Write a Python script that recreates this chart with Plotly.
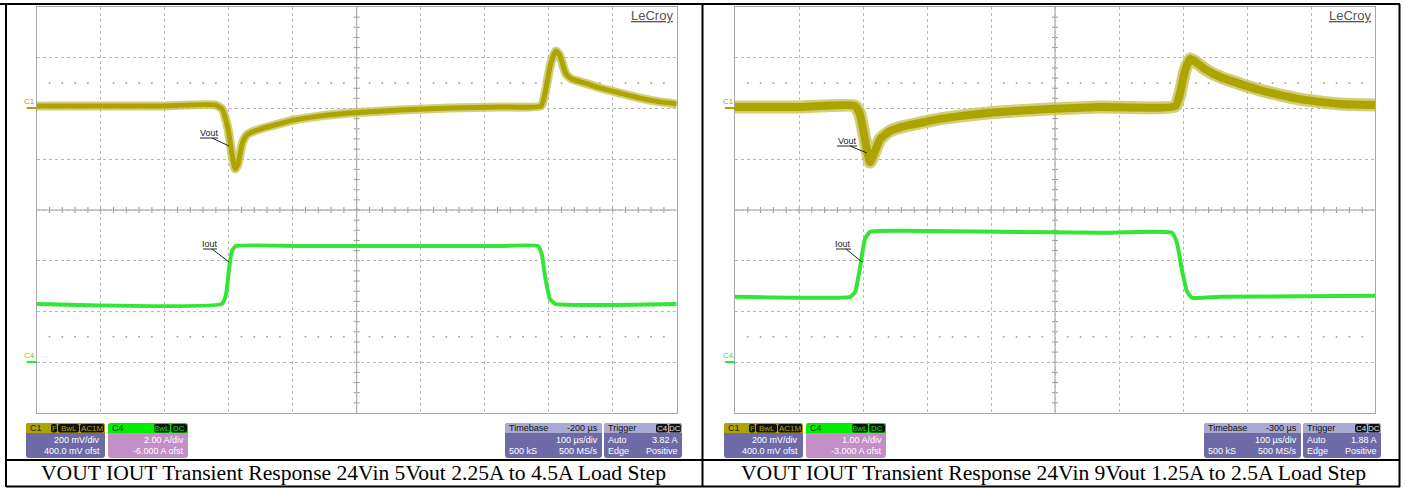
import plotly.graph_objects as go

W, H = 1405, 489

# ---------------- data ----------------
# Left scope: 24Vin 5Vout, 2.25A -> 4.5A
vout_t_left = [-300, -201, -107, -21.5, -10.5, -1, 5, 10, 14.5, 21, 27, 36, 49, 72, 103, 142,
               190, 268, 346, 424, 488, 494, 503, 511, 517, 527, 536, 557, 580, 611, 643, 674, 700]
vout_mv_left = [10, 10, 10, 14, -2, -81, -179, -238, -219, -140, -108, -93, -81, -65, -45, -30,
                -18, -6, 2, 6, 10, 57, 175, 227, 211, 136, 116, 100, 81, 61, 41, 26, 18]
iout_t_left = [-300, -10.5, -4, 0.5, 5, 11, 111, 268, 424, 483, 489, 495, 502, 510, 700]
iout_a_left = [2.30, 2.30, 2.69, 3.67, 4.38, 4.58, 4.58, 4.58, 4.58, 4.58, 4.27, 3.28, 2.49, 2.30, 2.30]

# Right scope: 24Vin 9Vout, 1.25A -> 2.5A
vout_t_right = [-200, -98, -12.5, -5, 3, 11, 17, 27, 42, 66, 89, 120, 152, 214, 292, 370, 488,
                495, 503, 511, 520, 534, 558, 589, 620, 652, 683, 714, 745, 800]
vout_mv_right = [6, 6, 10, -22, -120, -211, -179, -120, -89, -69, -57, -41, -30, -14, -2, 6, 10,
                 57, 148, 195, 183, 156, 124, 97, 73, 53, 37, 26, 18, 14]
iout_t_right = [-200, -20, -12.5, -5, 3, 11, 58, 214, 370, 483, 491, 498, 506, 514, 558, 800]
iout_a_right = [1.29, 1.29, 1.38, 1.84, 2.43, 2.57, 2.59, 2.57, 2.55, 2.55, 2.33, 1.84, 1.40, 1.27, 1.29, 1.31]

# scope settings
time_ranges = [[-300, 700], [-200, 800]]
c1_ranges = [[-1200, 400], [-1200, 400]]          # 200 mV/div, zero 2 div above centre
c4_ranges = [[-2, 14], [-1, 7]]                   # 2 A/div ofst -6 A ; 1 A/div ofst -3 A
trig_levels = [3.82, 1.88]
c1_scale_txt = ["200 mV/div", "200 mV/div"]
c1_ofst_txt = ["400.0 mV ofst", "400.0 mV ofst"]
c4_scale_txt = ["2.00 A/div", "1.00 A/div"]
c4_ofst_txt = ["-6.000 A ofst", "-3.000 A ofst"]
tb_delay_txt = ["-200 µs", "-300 µs"]
trig_level_txt = ["3.82 A", "1.88 A"]
captions = ["VOUT IOUT Transient Response 24Vin 5Vout 2.25A to 4.5A Load Step",
            "VOUT IOUT Transient Response 24Vin 9Vout 1.25A to 2.5A Load Step"]

# ---------------- styling ----------------
OLIVE = "#ada400"
GREEN = "#33e633"
GRID = "#b8b8b8"
PURPLE = "#6e6aa8"
PINK = "#c28fc6"
HDR = "#a9a9d2"
FONT = "Liberation Sans"


def X(px):
    return px / W


def Y(py):
    return 1 - py / H


fig = go.Figure()
shapes = []
annos = []

grid_x0 = [36.7, 735.0]
GRID_W = 640.0
GRID_TOP, GRID_BOT = 7.0, 413.0
offs = [0, 698]

vt = [vout_t_left, vout_t_right]
vv = [vout_mv_left, vout_mv_right]
it = [iout_t_left, iout_t_right]
ia = [iout_a_left, iout_a_right]
vwidth_outer = [9, 13]
vwidth_core = [5, 8]

layout_axes = {}
for p in range(2):
    xa = "x" if p == 0 else "x2"
    ya = "y" if p == 0 else "y3"
    ya2 = "y2" if p == 0 else "y4"
    xkey = "xaxis" if p == 0 else "xaxis2"
    ykey = "yaxis" if p == 0 else "yaxis3"
    y2key = "yaxis2" if p == 0 else "yaxis4"
    t0, t1 = time_ranges[p]
    v0, v1 = c1_ranges[p]
    layout_axes[xkey] = dict(domain=[X(grid_x0[p]), X(grid_x0[p] + GRID_W)], range=[t0, t1],
                             anchor=ya, tick0=t0, dtick=(t1 - t0) / 10, showgrid=True,
                             gridcolor=GRID, griddash="dot", gridwidth=1, showticklabels=False,
                             ticks="", zeroline=False, showline=True, mirror=True,
                             linecolor="#a8a8a8", linewidth=1, fixedrange=True)
    layout_axes[ykey] = dict(domain=[Y(GRID_BOT), Y(GRID_TOP)], range=[v0, v1], anchor=xa,
                             tick0=v0, dtick=(v1 - v0) / 8, showgrid=True, gridcolor=GRID,
                             griddash="dot", gridwidth=1, showticklabels=False, ticks="",
                             zeroline=False, showline=True, mirror=True, linecolor="#a8a8a8",
                             linewidth=1, fixedrange=True)
    layout_axes[y2key] = dict(overlaying=ya, range=c4_ranges[p], visible=False, anchor=xa,
                              fixedrange=True)

    # centre cross with minor ticks
    tc = (t0 + t1) / 2
    vc = (v0 + v1) / 2
    line_c = dict(color="#9a9a9a", width=1)
    shapes.append(dict(type="line", xref=xa, yref=ya, x0=t0, x1=t1, y0=vc, y1=vc, line=line_c, layer="below"))
    shapes.append(dict(type="line", xref=xa, yref=ya, x0=tc, x1=tc, y0=v0, y1=v1, line=line_c, layer="below"))
    tdiv = (t1 - t0) / 10
    vdiv = (v1 - v0) / 8
    tpx = tdiv / 64.0
    vpx = vdiv / 50.75
    for k in range(1, 50):
        tt = t0 + k * tdiv / 5
        shapes.append(dict(type="line", xref=xa, yref=ya, x0=tt, x1=tt, y0=vc - 3 * vpx,
                           y1=vc + 3 * vpx, line=line_c, layer="below"))
    for k in range(1, 40):
        yy = v0 + k * vdiv / 5
        shapes.append(dict(type="line", xref=xa, yref=ya, x0=tc - 3 * tpx, x1=tc + 3 * tpx,
                           y0=yy, y1=yy, line=line_c, layer="below"))
    # dotted rows at +/- 2.5 div
    dx, dy = [], []
    for yrow in (vc + 2.5 * vdiv, vc - 2.5 * vdiv):
        for k in range(1, 50):
            if k % 5 == 0:
                continue
            dx.append(t0 + k * tdiv / 5)
            dy.append(yrow)
    fig.add_trace(go.Scatter(x=dx, y=dy, mode="markers", xaxis=xa, yaxis=ya, hoverinfo="skip",
                             marker=dict(size=2, color="#a8a8a8"), showlegend=False))

    # traces: Vout as a fuzzy band (light outer + solid core)
    fig.add_trace(go.Scatter(x=vt[p], y=vv[p], mode="lines", xaxis=xa, yaxis=ya, hoverinfo="skip",
                             line=dict(color="#c9c25a", width=vwidth_outer[p], shape="spline", smoothing=0.5),
                             opacity=0.8, showlegend=False))
    fig.add_trace(go.Scatter(x=vt[p], y=vv[p], mode="lines", xaxis=xa, yaxis=ya, hoverinfo="skip",
                             line=dict(color=OLIVE, width=vwidth_core[p], shape="spline", smoothing=0.5),
                             showlegend=False))
    fig.add_trace(go.Scatter(x=it[p], y=ia[p], mode="lines", xaxis=xa, yaxis=ya2, hoverinfo="skip",
                             line=dict(color=GREEN, width=4, shape="spline", smoothing=0.4),
                             showlegend=False))
    # trigger markers
    fig.add_trace(go.Scatter(x=[0], y=[v0 - 3.5 * vpx], mode="markers", xaxis=xa, yaxis=ya,
                             cliponaxis=False, hoverinfo="skip", showlegend=False,
                             marker=dict(symbol="triangle-up", size=8, color="#22dd22")))
    fig.add_trace(go.Scatter(x=[t1 + 5 * tpx], y=[trig_levels[p]], mode="markers", xaxis=xa, yaxis=ya2,
                             cliponaxis=False, hoverinfo="skip", showlegend=False,
                             marker=dict(symbol="triangle-left", size=8, color="#22dd22")))

    # channel ground markers
    gx = grid_x0[p]
    annos.append(dict(x=X(gx - 7), y=Y(101), xref="paper", yref="paper", text="C1", showarrow=False,
                      font=dict(family=FONT, size=8, color=OLIVE), xanchor="center", yanchor="middle"))
    shapes.append(dict(type="line", xref="paper", yref="paper", x0=X(gx - 10), x1=X(gx),
                       y0=Y(108), y1=Y(108), line=dict(color=OLIVE, width=2)))
    annos.append(dict(x=X(gx - 7), y=Y(355), xref="paper", yref="paper", text="C4", showarrow=False,
                      font=dict(family=FONT, size=8, color=GREEN), xanchor="center", yanchor="middle"))
    shapes.append(dict(type="line", xref="paper", yref="paper", x0=X(gx - 10), x1=X(gx),
                       y0=Y(362), y1=Y(362), line=dict(color=GREEN, width=2)))

    # LeCroy logo
    annos.append(dict(x=X(gx + GRID_W - 2), y=Y(15), xref="paper", yref="paper", text="<u>LeCroy</u>",
                      showarrow=False, font=dict(family=FONT, size=13, color="#555555"),
                      xanchor="right", yanchor="middle"))

# labels Vout / Iout with leader lines (pixel positions)
labels = [("Vout", 209, 133, 200, 218, 138, 212, 229, 146),
          ("Iout", 210, 244, 203, 217, 249, 212, 229, 262),
          ("Vout", 847, 141, 837, 857, 146, 850, 867, 153),
          ("Iout", 843, 244, 836, 851, 249, 846, 862, 262)]
for txt_, cx, cy, u0, u1, uy, lx0, lx1, ly1 in labels:
    annos.append(dict(x=X(cx), y=Y(cy), xref="paper", yref="paper", text=txt_, showarrow=False,
                      font=dict(family=FONT, size=9, color="#222222"), xanchor="center", yanchor="middle"))
    shapes.append(dict(type="line", xref="paper", yref="paper", x0=X(u0), x1=X(u1), y0=Y(uy), y1=Y(uy),
                       line=dict(color="#222222", width=1)))
    shapes.append(dict(type="line", xref="paper", yref="paper", x0=X(lx0), x1=X(lx1), y0=Y(uy), y1=Y(ly1),
                       line=dict(color="#222222", width=1)))


def rr(x0, y0, x1, y1, r, fill, top_only=False):
    pts = (f"M {X(x0 + r)},{Y(y0)} L {X(x1 - r)},{Y(y0)} Q {X(x1)},{Y(y0)} {X(x1)},{Y(y0 + r)} ")
    if top_only:
        pts += f"L {X(x1)},{Y(y1)} L {X(x0)},{Y(y1)} "
    else:
        pts += (f"L {X(x1)},{Y(y1 - r)} Q {X(x1)},{Y(y1)} {X(x1 - r)},{Y(y1)} "
                f"L {X(x0 + r)},{Y(y1)} Q {X(x0)},{Y(y1)} {X(x0)},{Y(y1 - r)} ")
    pts += f"L {X(x0)},{Y(y0 + r)} Q {X(x0)},{Y(y0)} {X(x0 + r)},{Y(y0)} Z"
    return dict(type="path", xref="paper", yref="paper", path=pts, fillcolor=fill,
                line=dict(width=0))


def txt(x, y, s, color, anchor="left", size=9):
    annos.append(dict(x=X(x), y=Y(y), xref="paper", yref="paper", text=s, showarrow=False,
                      font=dict(family=FONT, size=size, color=color), xanchor=anchor, yanchor="middle"))


def badge(x0, x1, s, tcolor):
    shapes.append(rr(x0, 424, x1, 432.5, 2, "#111111"))
    txt((x0 + x1) / 2, 428.5, s, tcolor, "center", 8)


BOX_T, HDR_B, BOX_B = 423, 433, 458
for p in range(2):
    o = offs[p]
    # C1 box
    shapes.append(rr(26 + o, BOX_T, 105 + o, BOX_B, 3, PURPLE))
    shapes.append(rr(26 + o, BOX_T, 105 + o, HDR_B, 3, OLIVE, top_only=True))
    txt(28 + o, 428, "C1", "#222222")
    badge(51 + o, 57 + o, "F", OLIVE)
    badge(58 + o, 79 + o, "BwL", OLIVE)
    badge(80 + o, 104 + o, "AC1M", OLIVE)
    txt(102 + o, 440, c1_scale_txt[p], "white", "right")
    txt(102 + o, 451, c1_ofst_txt[p], "white", "right")
    # C4 box
    shapes.append(rr(108 + o, BOX_T, 188 + o, BOX_B, 3, PINK))
    shapes.append(rr(108 + o, BOX_T, 188 + o, HDR_B, 3, "#00ee00", top_only=True))
    txt(110 + o, 428, "C4", "#222222")
    badge(154 + o, 170 + o, "BwL", "#00ee00")
    badge(171 + o, 187 + o, "DC", "#00ee00")
    txt(186 + o, 440, c4_scale_txt[p], "white", "right")
    txt(186 + o, 451, c4_ofst_txt[p], "white", "right")
    # Timebase box
    q = o + (1 if p == 1 else 0)
    shapes.append(rr(505 + q, BOX_T, 602 + q, BOX_B, 3, PURPLE))
    shapes.append(rr(505 + q, BOX_T, 602 + q, HDR_B, 3, HDR, top_only=True))
    txt(507 + q, 428, "Timebase", "#111111")
    txt(600 + q, 428, tb_delay_txt[p], "#111111", "right")
    txt(600 + q, 440, "100 µs/div", "white", "right")
    txt(507 + q, 451, "500 kS", "white")
    txt(600 + q, 451, "500 MS/s", "white", "right")
    # Trigger box
    shapes.append(rr(604 + q, BOX_T, 682 + q, BOX_B, 3, PURPLE))
    shapes.append(rr(604 + q, BOX_T, 682 + q, HDR_B, 3, HDR, top_only=True))
    txt(606 + q, 428, "Trigger", "#111111")
    badge(656 + q, 668 + q, "C4", "#e0e0e0")
    badge(669 + q, 681 + q, "DC", "#e0e0e0")
    txt(606 + q, 440, "Auto", "white")
    txt(680 + q, 440, trig_level_txt[p], "white", "right")
    txt(606 + q, 451, "Edge", "white")
    txt(680 + q, 451, "Positive", "white", "right")

# captions
for p, cx in enumerate([354, 1053]):
    annos.append(dict(x=X(cx), y=Y(473), xref="paper", yref="paper", text=captions[p], showarrow=False,
                      font=dict(family="Liberation Serif", size=21.6, color="black"),
                      xanchor="center", yanchor="middle"))

# table borders
blk = dict(color="black", width=2)
for (x0, y0, x1, y1) in [(0, 4, 1400, 4), (6, 4, 6, 487), (702.5, 4, 702.5, 487), (1399.5, 4, 1399.5, 487),
                         (6, 460, 1400, 460), (6, 486.5, 1400, 486.5)]:
    shapes.append(dict(type="line", xref="paper", yref="paper", x0=X(x0), x1=X(x1), y0=Y(y0), y1=Y(y1),
                       line=blk))

fig.update_layout(width=W, height=H, margin=dict(l=0, r=0, t=0, b=0), paper_bgcolor="white",
                  plot_bgcolor="white", showlegend=False, shapes=shapes, annotations=annos,
                  **layout_axes)
fig.write_html("out.html", config={"displayModeBar": False},
               post_script="document.body.style.margin='0';document.body.style.padding='0';"
                           "document.body.style.overflow='hidden';")
